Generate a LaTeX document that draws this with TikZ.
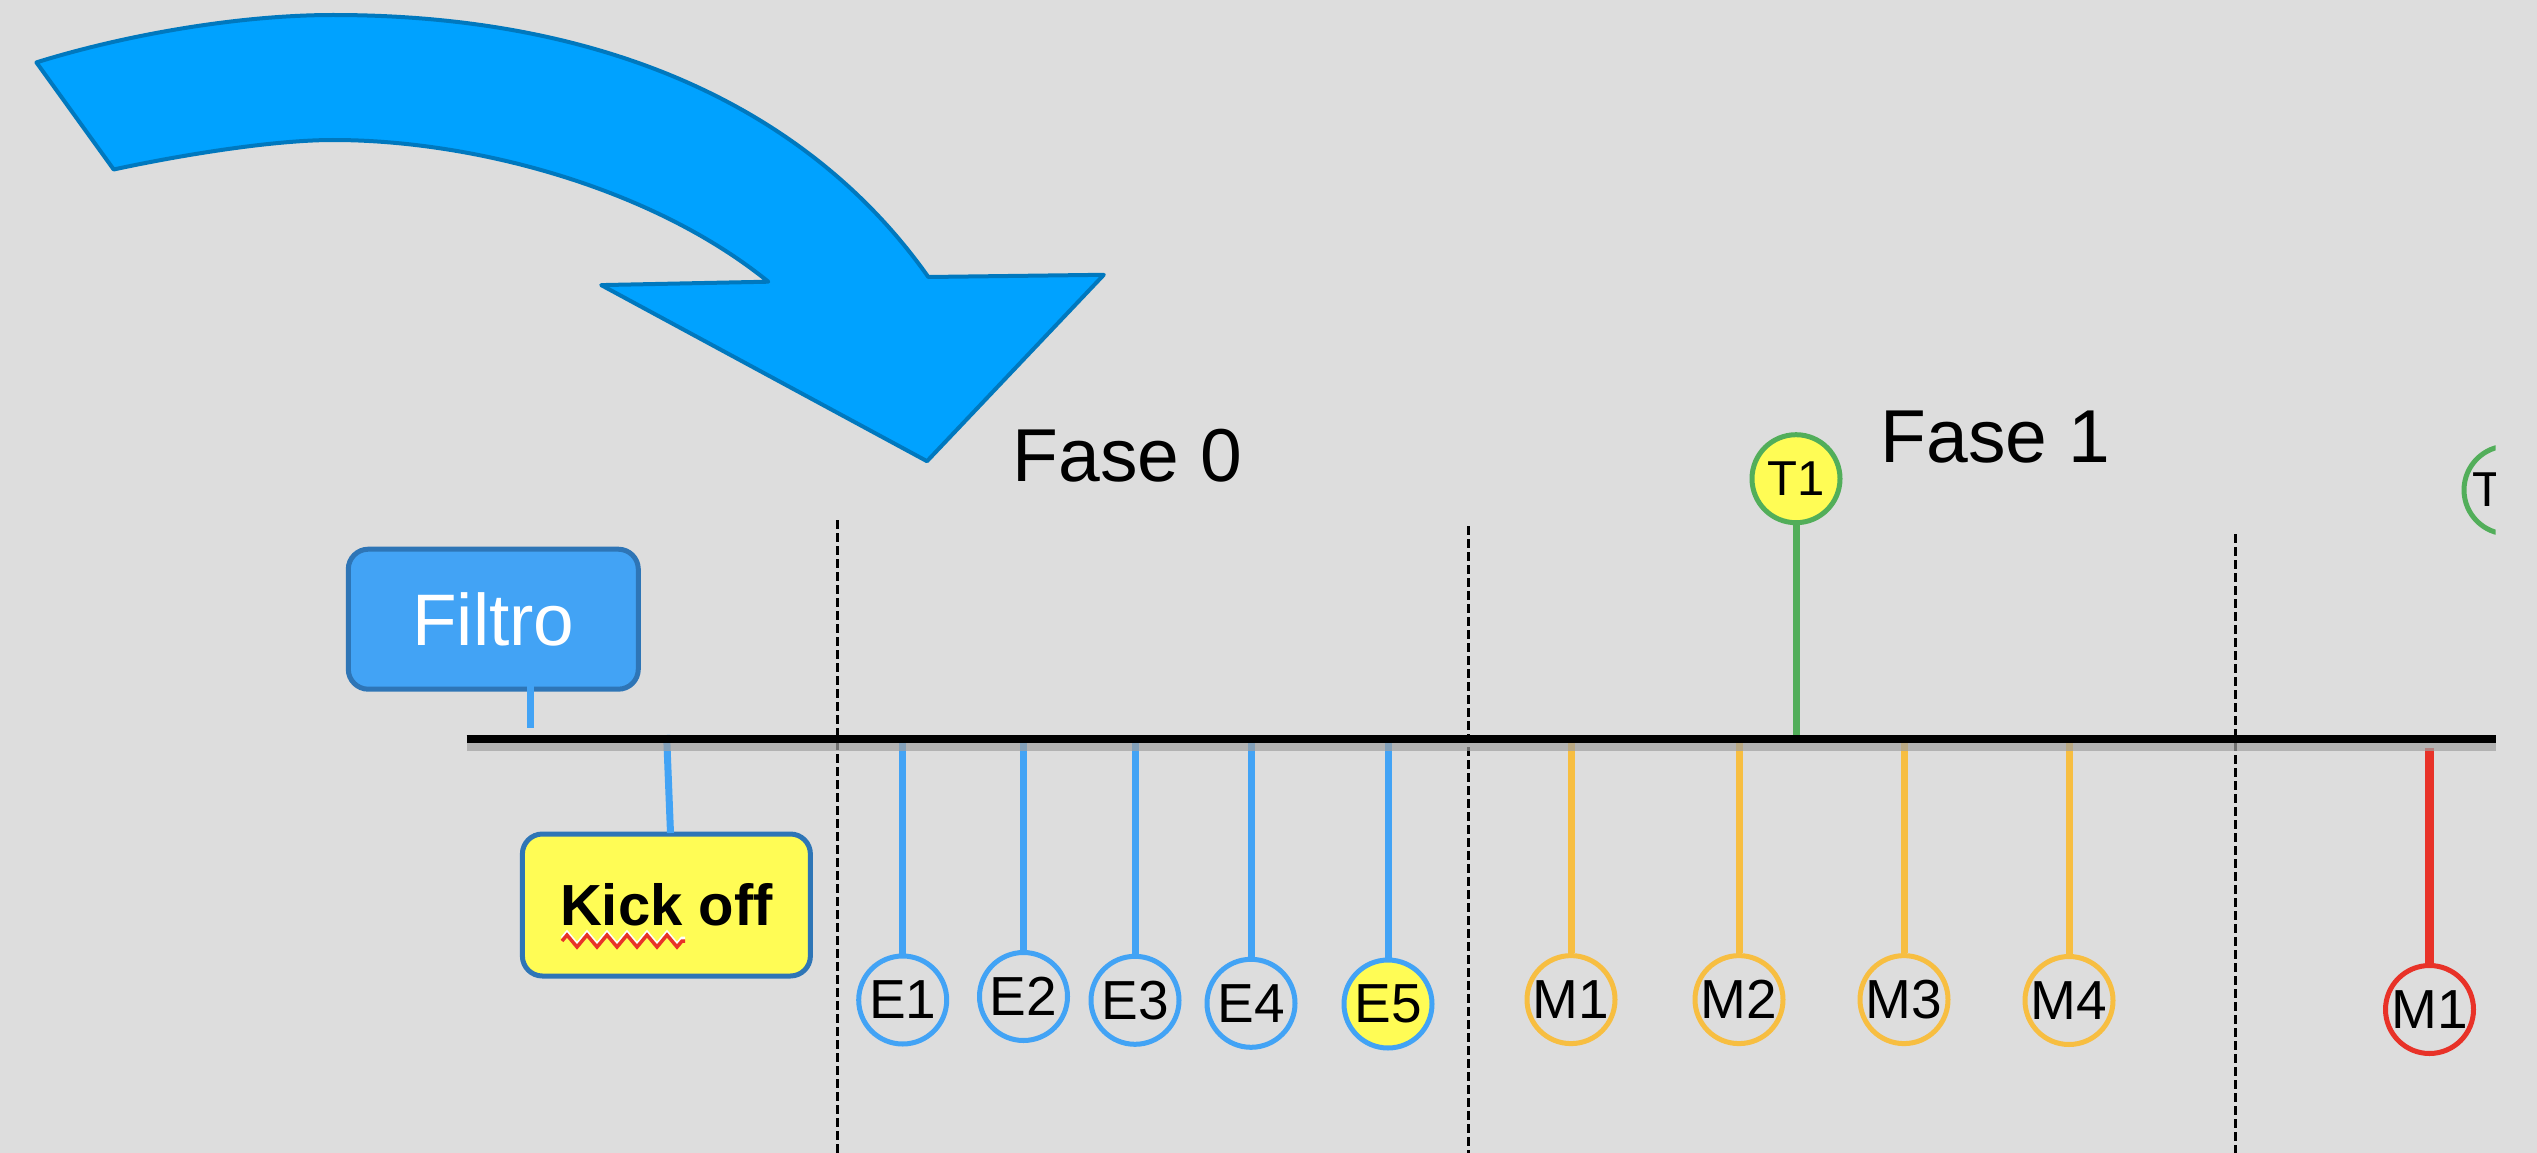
\documentclass[tikz,border=0pt]{standalone}
\usepackage{fontspec}
\setmainfont{Liberation Sans}
\usetikzlibrary{decorations.pathmorphing}
\definecolor{bg}{RGB}{221,221,221}
\definecolor{arrowfill}{RGB}{0,162,255}
\definecolor{arrowline}{RGB}{0,120,190}
\definecolor{boxblue}{RGB}{66,163,245}
\definecolor{boxline}{RGB}{46,117,182}
\definecolor{kyellow}{RGB}{255,252,85}
\definecolor{eblue}{RGB}{66,163,245}
\definecolor{morange}{RGB}{247,190,65}
\definecolor{tgreen}{RGB}{82,174,90}
\definecolor{mred}{RGB}{232,50,40}
\definecolor{shadowgray}{RGB}{160,160,160}
\begin{document}
\begin{tikzpicture}[x=1pt,y=-1pt,
  circ/.style={circle, minimum size=88pt, inner sep=0pt, line width=5pt,
    font=\fontsize{55}{60}\selectfont},
  tcirc/.style={circ, font=\fontsize{49}{54}\selectfont},
  stemline/.style={line width=7pt},
  labelbox/.style={rounded corners=20pt, line width=5pt, draw=boxline, inner sep=0pt},
  phase/.style={line width=3pt, dash pattern=on 9pt off 4pt},
  fasetext/.style={anchor=base west, inner sep=0pt, font=\fontsize{75}{80}\selectfont}]
\fill[bg] (0,0) rectangle (2537,1153);
\useasboundingbox (0,0) rectangle (2537,1153);

% curved arrow
\filldraw[fill=arrowfill, draw=arrowline, line width=4pt, line join=round]
  (36.4,62.4) .. controls (126.4,34.4) and (240,15) .. (333,15)
  .. controls (613,15) and (812.8,113.4) .. (928.3,277)
  -- (1103.8,274.8) -- (927,461.2) -- (601.2,285.1) -- (768.3,281.7)
  .. controls (651.7,187.2) and (473,140) .. (333,140)
  .. controls (270,140) and (173.7,156.5) .. (113.7,169.5)
  -- cycle;

% phase separators
\coordinate (d0t) at (837.5,520); \coordinate (d0b) at (837.5,1153);
\coordinate (d1t) at (1468,526); \coordinate (d1b) at (1468,1153);
\coordinate (d2t) at (2235.3,534); \coordinate (d2b) at (2235.3,1153);
\draw[phase] (d0t) -- (d0b);
\draw[phase] (d1t) -- (d1b);
\draw[phase] (d2t) -- (d2b);

% phase titles
\node[fasetext] (fase0) at (1012.7,481.7) {Fase 0};
\node[fasetext] (fase1) at (1880.6,462.6) {Fase 1};

% boxes
\node[labelbox, fill=boxblue, minimum width=290pt, minimum height=140pt,
  text=white, font=\fontsize{73}{78}\selectfont] (filtro) at (493.3,619.2) {\raisebox{-3pt}{Filtro}};
\node[labelbox, fill=kyellow, minimum width=288pt, minimum height=142pt,
  font=\bfseries\fontsize{58}{62}\selectfont] (kick) at (666.4,905) {Kick off};
\draw[white, line width=3pt, decorate, decoration={zigzag, segment length=20pt, amplitude=6pt}] (562,938) -- (685,938);
\draw[mred, line width=3.5pt, decorate, decoration={zigzag, segment length=20pt, amplitude=6pt}] (562,941) -- (685,941);

% circles
\node[circ, draw=eblue] (E1) at (902.7,1000) {E1};
\node[circ, draw=eblue] (E2) at (1023.5,996.5) {E2};
\node[circ, draw=eblue] (E3) at (1135,1000.3) {E3};
\node[circ, draw=eblue] (E4) at (1251,1003.3) {E4};
\node[circ, draw=eblue, fill=kyellow] (E5) at (1388,1004) {E5};
\node[circ, draw=morange] (M1) at (1571,999.6) {M1};
\node[circ, draw=morange] (M2) at (1739,999.6) {M2};
\node[circ, draw=morange] (M3) at (1904,999.6) {M3};
\node[circ, draw=morange] (M4) at (2069,1000.5) {M4};
\node[circ, draw=mred] (M1b) at (2429.5,1009.5) {M1};
\node[tcirc, draw=tgreen, fill=kyellow] (T1) at (1796,478.7) {T1};

% timeline anchors
\coordinate (tE1) at (902.7,741); \coordinate (tE2) at (1023.5,741);
\coordinate (tE3) at (1135,741); \coordinate (tE4) at (1251,741);
\coordinate (tE5) at (1388,741);
\coordinate (tM1) at (1571,741); \coordinate (tM2) at (1739,741);
\coordinate (tM3) at (1904,741); \coordinate (tM4) at (2069,741);
\coordinate (tM1b) at (2429.5,748);
\coordinate (tT1) at (1796,739);
\coordinate (fTop) at (530.5,652); \coordinate (fBot) at (530.5,728);
\coordinate (kTop) at (666.6,735); \coordinate (kBot) at (670.5,833);

% stems
\foreach \n in {E1,E2,E3,E4,E5} \draw[stemline, eblue] (t\n) -- (\n);
\foreach \n in {M1,M2,M3,M4} \draw[stemline, morange] (t\n) -- (\n);
\draw[line width=9pt, mred] (tM1b) -- (M1b);
\draw[stemline, tgreen] (T1) -- (tT1);
\draw[stemline, eblue] (fTop) -- (fBot);
\draw[stemline, eblue] (kTop) -- (kBot);

% timeline
\coordinate (tlL) at (466.5,739); \coordinate (tlR) at (2495.5,739);
\draw[shadowgray, line width=8pt, opacity=0.7] ([yshift=-8pt]tlL) -- ([yshift=-8pt]tlR);
\draw[black, line width=8pt] (tlL) -- (tlR);

% partially visible circle at the right edge
\begin{scope}
\clip (2400,400) rectangle (2495.5,600);
\node[tcirc, draw=tgreen] (T2) at (2508,490) {};
\node[anchor=base west, inner sep=0pt, font=\fontsize{49}{54}\selectfont] (T2t) at (2472,506) {T};
\end{scope}
\end{tikzpicture}
\end{document}
